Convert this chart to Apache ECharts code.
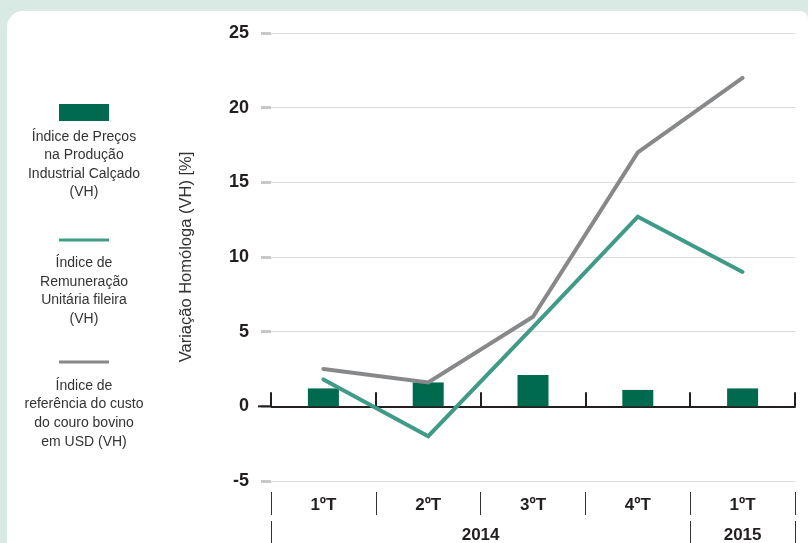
<!DOCTYPE html>
<html>
<head>
<meta charset="utf-8">
<script src="https://cdn.jsdelivr.net/npm/echarts@6/dist/echarts.min.js"></script>
<style>
  html, body { margin: 0; padding: 0; background: #d9e9e4; }
  #wrap { position: relative; width: 808px; height: 543px; overflow: hidden; }
  #panel { position: absolute; left: 7px; top: 11px; width: 801px; height: 532px;
           background: #ffffff; border-radius: 16px 8px 0 0; }
  #chart { position: absolute; left: 0; top: 0; width: 808px; height: 543px; }
</style>
</head>
<body>
<div id="wrap"><div id="panel"></div><div id="chart"></div></div>
<script>
// Quarters on the x axis and the year each group of quarters belongs to
const quarters = ['1ºT', '2ºT', '3ºT', '4ºT', '1ºT'];
const years = ['2014', '2015'];
const quartersPerYear = [4, 1];

// Value axis (VH, %)
const yMin = -5;
const yMax = 25;
const yStep = 5;
const axisTitle = 'Variação Homóloga (VH) [%]';

// Series values (year-on-year change, %)
const precosCalcado = [1.2, 1.6, 2.1, 1.1, 1.2];
const remuneracaoFileira = [1.8, -2.0, 5.3, 12.7, 9.0];
const custoCouroUSD = [2.5, 1.6, 6.0, 17.0, 22.0];

// Legend texts, already broken into lines
const legendTexts = [
  'Índice de Preços\nna Produção\nIndustrial Calçado\n(VH)',
  'Índice de\nRemuneração\nUnitária fileira\n(VH)',
  'Índice de\nreferência do custo\ndo couro bovino\nem USD (VH)'
];

const COLORS = { bar: '#006a4f', green: '#3f9b85', gray: '#87888a', ink: '#231f20' };
const FONT = "'Liberation Sans', Arial, Helvetica, sans-serif";

// Year group boundaries and centres in quarter units
const yearBounds = [0];
quartersPerYear.forEach(n => yearBounds.push(yearBounds[yearBounds.length - 1] + n));
const yearCenters = years.map((_, i) => (yearBounds[i] + yearBounds[i + 1]) / 2);

const chart = echarts.init(document.getElementById('chart'), null, { renderer: 'canvas' });

const lineStyle = (color) => ({ color: color, width: 4, cap: 'round', join: 'miter' });

// Legend drawn as graphics: swatch on top, centred text below
const legendX = 84;
const legendFont = '14px ' + FONT;
const legendGraphics = [
  { type: 'rect', left: legendX - 25, top: 104, shape: { width: 50, height: 17 }, style: { fill: COLORS.bar } },
  { type: 'text', x: legendX, y: 127.5, style: { text: legendTexts[0], textAlign: 'center', textVerticalAlign: 'top', font: legendFont, lineHeight: 18.6, fill: '#333' } },
  { type: 'line', shape: { x1: legendX - 25, y1: 240, x2: legendX + 25, y2: 240 }, style: { stroke: COLORS.green, lineWidth: 3 } },
  { type: 'text', x: legendX, y: 253.5, style: { text: legendTexts[1], textAlign: 'center', textVerticalAlign: 'top', font: legendFont, lineHeight: 18.8, fill: '#333' } },
  { type: 'line', shape: { x1: legendX - 25, y1: 362, x2: legendX + 25, y2: 362 }, style: { stroke: COLORS.gray, lineWidth: 3 } },
  { type: 'text', x: legendX, y: 376.5, style: { text: legendTexts[2], textAlign: 'center', textVerticalAlign: 'top', font: legendFont, lineHeight: 18.7, fill: '#333' } }
];

chart.setOption({
  animation: false,
  backgroundColor: 'transparent',
  textStyle: { fontFamily: FONT },
  grid: { left: 271, right: 13, top: 33, bottom: 62, containLabel: false, outerBoundsMode: 'none' },
  xAxis: [
    {
      // axis line on zero with the small upward ticks
      type: 'category', data: quarters, boundaryGap: true,
      axisLine: { show: true, onZero: true, lineStyle: { color: COLORS.ink, width: 2 } },
      axisTick: { show: true, inside: true, length: 14, lineStyle: { color: COLORS.ink, width: 2 } },
      axisLabel: { show: false }, splitLine: { show: false }
    },
    {
      // quarter labels under the plot
      type: 'category', data: quarters, boundaryGap: true, position: 'bottom', offset: 11,
      axisLine: { show: false, onZero: false },
      axisTick: { show: true, length: 23, lineStyle: { color: '#333', width: 1 } },
      axisLabel: { show: true, margin: 5, fontSize: 17, fontWeight: 'bold', color: COLORS.ink, fontFamily: FONT },
      splitLine: { show: false }
    },
    {
      // year row
      type: 'value', min: 0, max: yearBounds[yearBounds.length - 1], position: 'bottom', offset: 40,
      axisLine: { show: false, onZero: false },
      axisTick: { show: true, length: 24, customValues: yearBounds, lineStyle: { color: '#333', width: 1 } },
      axisLabel: {
        show: true, customValues: yearCenters, margin: 6, fontSize: 17, fontWeight: 'bold', color: COLORS.ink, fontFamily: FONT,
        formatter: (v) => { const i = yearCenters.findIndex(c => Math.abs(c - v) < 1e-6); return i >= 0 ? years[i] : ''; }
      },
      splitLine: { show: false }
    }
  ],
  yAxis: {
    type: 'value', min: yMin, max: yMax, interval: yStep, offset: 4,
    name: axisTitle, nameLocation: 'middle', nameGap: 72, nameRotate: 90,
    nameTextStyle: { fontSize: 16.5, color: '#333', fontFamily: FONT },
    axisLine: { show: false },
    axisTick: { show: true, length: 10, lineStyle: { color: '#c8c8c8', width: 3 } },
    axisLabel: { margin: 18, fontSize: 18, fontWeight: 'bold', color: COLORS.ink, fontFamily: FONT },
    splitLine: { show: true, lineStyle: { color: '#dcdcdc', width: 1 } }
  },
  series: [
    {
      name: legendTexts[0].replace(/\n/g, ' '), type: 'bar', xAxisIndex: 0, data: precosCalcado,
      barWidth: 31, itemStyle: { color: COLORS.bar }, z: 1
    },
    {
      name: legendTexts[1].replace(/\n/g, ' '), type: 'line', xAxisIndex: 0, data: remuneracaoFileira,
      symbol: 'none', lineStyle: lineStyle(COLORS.green), z: 3
    },
    {
      name: legendTexts[2].replace(/\n/g, ' '), type: 'line', xAxisIndex: 0, data: custoCouroUSD,
      symbol: 'none', lineStyle: lineStyle(COLORS.gray), z: 4
    }
  ],
  graphic: legendGraphics
});

// Extend the zero line a little to the left, under the value labels
const zeroY = chart.convertToPixel({ yAxisIndex: 0 }, 0);
const leftX = chart.convertToPixel({ xAxisIndex: 2 }, 0);
chart.setOption({
  graphic: legendGraphics.concat([
    { type: 'line', z: 10, shape: { x1: leftX - 13, y1: zeroY, x2: leftX, y2: zeroY }, style: { stroke: COLORS.ink, lineWidth: 2 } }
  ])
});
</script>
</body>
</html>
